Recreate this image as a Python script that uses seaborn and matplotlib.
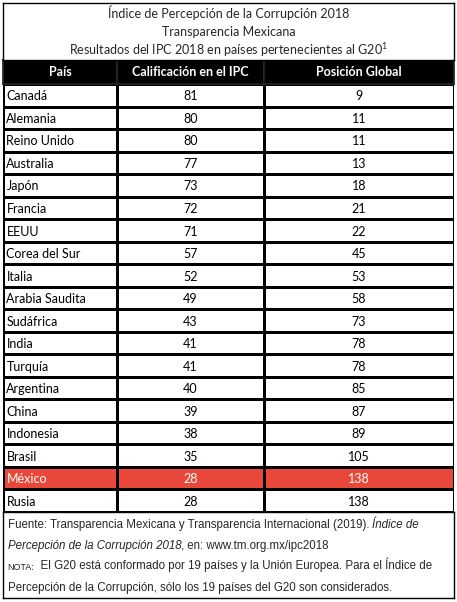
import numpy as np
import pandas as pd
import seaborn as sns
import matplotlib
matplotlib.use("Agg")
import matplotlib.pyplot as plt
from matplotlib.colors import ListedColormap

countries = ["Canadá", "Alemania", "Reino Unido", "Australia", "Japón", "Francia", "EEUU",
             "Corea del Sur", "Italia", "Arabia Saudita", "Sudáfrica", "India", "Turquía",
             "Argentina", "China", "Indonesia", "Brasil", "México", "Rusia"]
scores = [81, 80, 80, 77, 73, 72, 71, 57, 52, 49, 43, 41, 41, 40, 39, 38, 35, 28, 28]
ranks = [9, 11, 11, 13, 18, 21, 22, 45, 53, 58, 73, 78, 78, 85, 87, 89, 105, 138, 138]
headers = ["País", "Calificación en el IPC", "Posición Global"]
titles = ["Índice de Percepción de la Corrupción 2018", "Transparencia Mexicana",
          "Resultados del IPC 2018 en países pertenecientes al G20"]
highlight = "México"

sns.set_theme(style="white")
plt.rcParams["font.family"] = ["Lato", "DejaVu Sans"]

W, H = 457, 602
fig = plt.figure(figsize=(W / 100, H / 100), dpi=100)

def px_axes(x0, y0, x1, y1):
    return fig.add_axes([x0 / W, 1 - y1 / H, (x1 - x0) / W, (y1 - y0) / H])

cols_px = [3, 117, 264, 454]
top, head_top, head_bot, rows_bot, foot_bot = 3, 60, 84, 512, 598
RED = "#E8473A"

flag = np.array([[1 if c == highlight else 0] for c in countries])
cmap = ListedColormap(["white", RED])
col_values = [countries, scores, ranks]
for i in range(3):
    ax = px_axes(cols_px[i], head_bot, cols_px[i + 1], rows_bot)
    sns.heatmap(pd.DataFrame(flag), ax=ax, cmap=cmap, vmin=0, vmax=1, cbar=False,
                linewidths=1.0, linecolor="black", xticklabels=False, yticklabels=False)
    for r, v in enumerate(col_values[i]):
        color = "white" if countries[r] == highlight else "black"
        if i == 0:
            ax.text(0.03, r + 0.55, str(v), ha="left", va="center", fontsize=9, color=color)
        else:
            ax.text(0.5, r + 0.55, str(v), ha="center", va="center", fontsize=9, color=color)
    hax = px_axes(cols_px[i], head_top, cols_px[i + 1], head_bot)
    hax.set_facecolor("black")
    hax.set_xticks([]); hax.set_yticks([])
    hax.text(0.5, 0.5, headers[i], ha="center", va="center", color="white",
             fontsize=9, fontweight="bold", transform=hax.transAxes)

# title block
tax = px_axes(cols_px[0], top, cols_px[-1], head_top)
tax.set_xticks([]); tax.set_yticks([])
for sp in tax.spines.values():
    sp.set_color("black"); sp.set_linewidth(1)
for k, t in enumerate(titles):
    tax.text(0.5, 1 - (k + 0.5) / 3, t + (r"$^{\mathregular{1}}$" if k == 2 else ""),
             ha="center", va="center", fontsize=9, transform=tax.transAxes)

# footer
fax = px_axes(cols_px[0], rows_bot, cols_px[-1], foot_bot)
fax.set_xticks([]); fax.set_yticks([])
for sp in fax.spines.values():
    sp.set_color("black"); sp.set_linewidth(1)
ff = ["Liberation Sans"]
fs = 8.3

def line(y, parts):
    prev = None
    for txt, kw in parts:
        if prev is None:
            prev = fax.text(0.01, y, txt, fontsize=kw.get("size", fs), va="baseline",
                            style=kw.get("style", "normal"), family=ff, transform=fax.transAxes)
        else:
            prev = fax.annotate(txt, xy=(1, 0), xycoords=prev, va="bottom",
                                fontsize=kw.get("size", fs), style=kw.get("style", "normal"),
                                family=ff)

line(0.81, [("Fuente: Transparencia Mexicana y Transparencia Internacional (2019). ", {}),
            ("Índice de", {"style": "italic"})])
line(0.57, [("Percepción de la Corrupción 2018,", {"style": "italic"}),
            (" en: www.tm.org.mx/ipc2018", {})])
line(0.33, [("NOTA:", {"size": 6.5}),
            ("  El G20 está conformado por 19 países y la Unión Europea. Para el Índice de", {})])
line(0.08, [("Percepción de la Corrupción, sólo los 19 países del G20 son considerados.", {})])

fig.savefig("out.png", dpi=100, facecolor="white")
